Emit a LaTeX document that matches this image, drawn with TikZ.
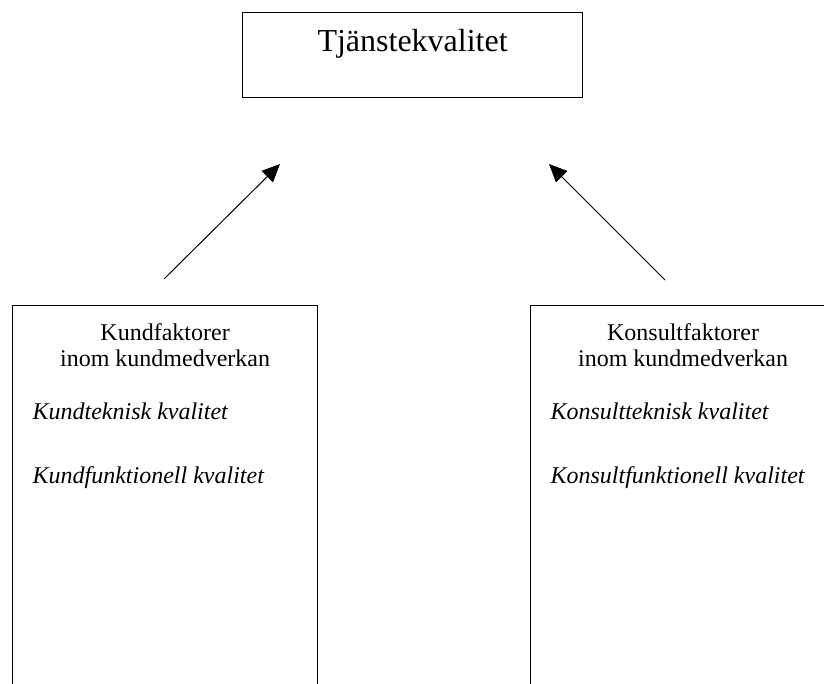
\documentclass[tikz,border=0pt]{standalone}
\usepackage{fontspec}
\setmainfont{Liberation Serif}
\usetikzlibrary{arrows.meta,positioning}

\begin{document}
\begin{tikzpicture}[
                        x=1pt,
                        y=-1pt,
                        >={Triangle[length=18pt,width=16pt]},
                        line width=1.2pt,
                        inner sep=0pt
                    ]
                    \tikzstyle{box}=[draw=black,rectangle,anchor=north west]
                    \tikzstyle{rubrik}=[font=\fontsize{24}{26}\selectfont,align=center,anchor=north]
                    \tikzstyle{kvalitet}=[font=\fontsize{24}{26}\selectfont\itshape,anchor=base west]

                    \useasboundingbox (0,0) rectangle (824,684);
                    \clip (0,0) rectangle (824,684);

                    % boxes
                    \node[box,minimum width=340pt,minimum height=85pt] (tjanst) at (242,12)  {};
                    \node[box,minimum width=305pt,minimum height=420pt] (kund)  at (12,305)  {};
                    \node[box,minimum width=305pt,minimum height=420pt] (konsult) at (530,305) {};

                    % texts
                    \node[font=\fontsize{32}{34}\selectfont,anchor=base] (titel) at ([yshift=-40pt]tjanst.north) {Tjänstekvalitet};

                    \node[rubrik] (kundrubrik) at ([yshift=-18.5pt]kund.north) {Kundfaktorer\\inom kundmedverkan};
                    \node[kvalitet] (kundteknisk) at ([xshift=20pt,yshift=-114pt]kund.north west) {Kundteknisk kvalitet};
                    \node[kvalitet] (kundfunktionell) at ([xshift=20pt,yshift=-178pt]kund.north west) {Kundfunktionell kvalitet};

                    \node[rubrik] (konsultrubrik) at ([yshift=-18.5pt]konsult.north) {Konsultfaktorer\\inom kundmedverkan};
                    \node[kvalitet] (konsultteknisk) at ([xshift=20pt,yshift=-114pt]konsult.north west) {Konsultteknisk kvalitet};
                    \node[kvalitet] (konsultfunktionell) at ([xshift=20pt,yshift=-178pt]konsult.north west) {Konsultfunktionell kvalitet};

                    % arrows
                    \coordinate (kundfot)    at (164,279);
                    \coordinate (kundspets)  at (280,164);
                    \coordinate (konsultfot)   at (665,280);
                    \coordinate (konsultspets) at (549,164);

                    \draw[->,line width=1pt] (kundfot) -- (kundspets);
                    \draw[->,line width=1pt] (konsultfot) -- (konsultspets);

\end{tikzpicture}
\end{document}
